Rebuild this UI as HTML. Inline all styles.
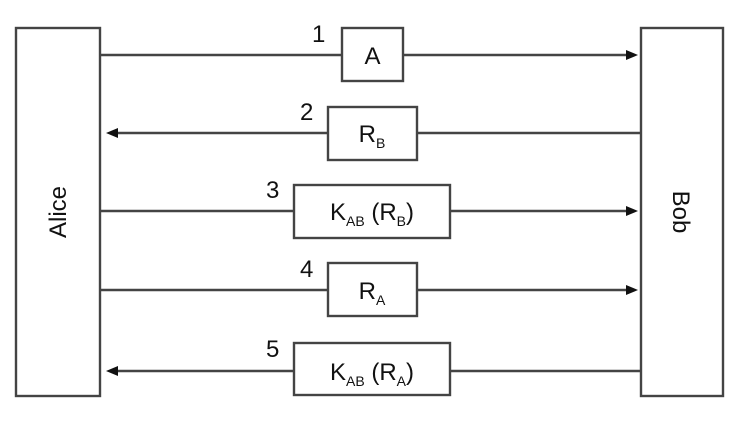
<!DOCTYPE html>
<html><head><style>
body{margin:0;background:#fff;}
svg text{font-family:"Liberation Sans",sans-serif;fill:#111;}
</style></head><body>
<svg width="745" height="436" viewBox="0 0 745 436" xmlns="http://www.w3.org/2000/svg">
<g fill="none" stroke="#444" stroke-width="2.4">
<rect x="16" y="28" width="84" height="368"/>
<rect x="641" y="28" width="82" height="368"/>
<line x1="100" y1="55" x2="342" y2="55"/><line x1="403" y1="55" x2="630" y2="55"/>
<line x1="110" y1="133" x2="328" y2="133"/><line x1="417" y1="133" x2="641" y2="133"/>
<line x1="100" y1="211" x2="294" y2="211"/><line x1="450" y1="211" x2="630" y2="211"/>
<line x1="100" y1="290" x2="328" y2="290"/><line x1="417" y1="290" x2="630" y2="290"/>
<line x1="110" y1="371" x2="294" y2="371"/><line x1="450" y1="371" x2="641" y2="371"/>
<rect x="342" y="28" width="61" height="53"/>
<rect x="328" y="107" width="89" height="53"/>
<rect x="294" y="185" width="156" height="53"/>
<rect x="328" y="263" width="89" height="53"/>
<rect x="294" y="343" width="156" height="52"/>
</g>
<g fill="#111">
<polygon points="638,55 626,50 626,60"/>
<polygon points="638,211 626,206 626,216"/>
<polygon points="638,290 626,285 626,295"/>
<polygon points="106,133 118,128 118,138"/>
<polygon points="106,371 118,366 118,376"/>
</g>
<g font-size="24">
<text x="312" y="42">1</text>
<text x="300" y="120">2</text>
<text x="266" y="198">3</text>
<text x="300" y="277">4</text>
<text x="266" y="357">5</text>
<text x="372.5" y="64" text-anchor="middle">A</text>
<text x="372" y="142" text-anchor="middle">R<tspan font-size="14" dy="6">B</tspan></text>
<text x="372" y="220" text-anchor="middle">K<tspan font-size="14" dy="6">AB</tspan><tspan dy="-6"> (R</tspan><tspan font-size="14" dy="6">B</tspan><tspan dy="-6">)</tspan></text>
<text x="372" y="299" text-anchor="middle">R<tspan font-size="14" dy="6">A</tspan></text>
<text x="372" y="380" text-anchor="middle">K<tspan font-size="14" dy="6">AB</tspan><tspan dy="-6"> (R</tspan><tspan font-size="14" dy="6">A</tspan><tspan dy="-6">)</tspan></text>
<text transform="translate(66,212) rotate(-90)" text-anchor="middle">Alice</text>
<text transform="translate(673,212) rotate(90)" text-anchor="middle">Bob</text>
</g>
</svg>
</body></html>
